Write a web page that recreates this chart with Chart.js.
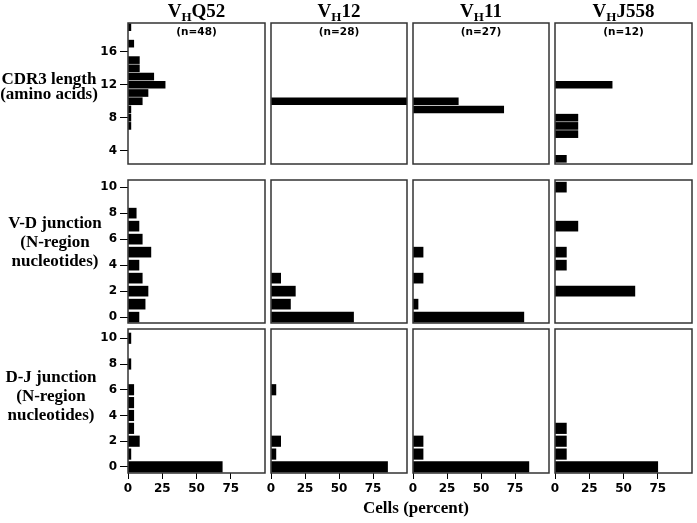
<!DOCTYPE html>
<html lang="en">
<head>
<meta charset="UTF-8">
<title>VH families: CDR3 length and N-region junctions</title>
<script src="https://cdn.jsdelivr.net/npm/chart.js"></script>
<style>
  body { margin: 0; background: #fff; width: 697px; height: 523px; position: relative; overflow: hidden; }
  canvas { position: absolute; }
  .serif { position: absolute; font-family: "Liberation Serif", "Times New Roman", serif; font-weight: bold; color: #000; white-space: nowrap; text-align: center; }
  .ctitle { font-size: 19px; line-height: 19px; }
  .ctitle .sub { font-size: 13px; position: relative; top: 4px; }
  .rlabel { font-size: 17px; line-height: 17px; width: 130px; }
  .count { position: absolute; font: bold 10.5px "DejaVu Sans", Verdana, sans-serif; line-height: 10px; text-align: center; color: #000; }
</style>
</head>
<body>
<script>
// column headers
const families = ['Q52', '12', '11', 'J558'];
const counts = [48, 28, 27, 12];

// row labels
const rowLabels = [
  ['CDR3 length', '(amino acids)'],
  ['V-D junction', '(N-region', 'nucleotides)'],
  ['D-J junction', '(N-region', 'nucleotides)']
];
const xTitle = 'Cells (percent)';

// tick values
const xTicks = [0, 25, 50, 75];
const cdr3Ticks = [4, 8, 12, 16];
const junctionTicks = [0, 2, 4, 6, 8, 10];

// CDR3 length (amino acids) -> percent of cells
const cdr3Q52Len = [7, 8, 9, 10, 11, 12, 13, 14, 15, 17, 19];
const cdr3Q52Pct = [2.1, 2.1, 2.1, 10.4, 14.6, 27.1, 18.8, 8.3, 8.3, 4.2, 2.1];
const cdr3V12Len = [10];
const cdr3V12Pct = [100];
const cdr3V11Len = [9, 10];
const cdr3V11Pct = [66.7, 33.3];
const cdr3J558Len = [3, 6, 7, 8, 12];
const cdr3J558Pct = [8.3, 16.7, 16.7, 16.7, 41.7];

// V-D junction N nucleotides -> percent of cells
const vdQ52N = [0, 1, 2, 3, 4, 5, 6, 7, 8];
const vdQ52Pct = [8, 12.5, 14.6, 10.4, 8, 16.7, 10.4, 8, 6];
const vdV12N = [0, 1, 2, 3];
const vdV12Pct = [60.7, 14.3, 17.9, 7.1];
const vdV11N = [0, 1, 3, 5];
const vdV11Pct = [81.5, 3.7, 7.4, 7.4];
const vdJ558N = [2, 4, 5, 7, 10];
const vdJ558Pct = [58.3, 8.3, 8.3, 16.7, 8.3];

// D-J junction N nucleotides -> percent of cells
const djQ52N = [0, 1, 2, 3, 4, 5, 6, 8, 10];
const djQ52Pct = [68.8, 2.1, 8.3, 4.2, 4.2, 4.2, 4.2, 2.1, 2.1];
const djV12N = [0, 1, 2, 6];
const djV12Pct = [85.7, 3.6, 7.1, 3.6];
const djV11N = [0, 1, 2];
const djV11Pct = [85.2, 7.4, 7.4];
const djJ558N = [0, 1, 2, 3];
const djJ558Pct = [75, 8.3, 8.3, 8.3];

// layout of the 3x4 grid (page pixels)
const colLeft = [128, 271, 413, 555];
const colWidth = [137, 136, 136, 137];
const rowTop = [23, 180, 329];
const rowHeight = [141, 143, 144];
const PAD_L = 40, PAD_T = 4, PAD_R = 4, PAD_B = 30;

const rows = [
  { yMin: 2.37, yMax: 19.51, ticks: cdr3Ticks, thick: 7,
    sets: [[cdr3Q52Len, cdr3Q52Pct], [cdr3V12Len, cdr3V12Pct], [cdr3V11Len, cdr3V11Pct], [cdr3J558Len, cdr3J558Pct]] },
  { yMin: -0.45, yMax: 10.55, ticks: junctionTicks, thick: 10,
    sets: [[vdQ52N, vdQ52Pct], [vdV12N, vdV12Pct], [vdV11N, vdV11Pct], [vdJ558N, vdJ558Pct]] },
  { yMin: -0.47, yMax: 10.72, ticks: junctionTicks, thick: 10.5,
    sets: [[djQ52N, djQ52Pct], [djV12N, djV12Pct], [djV11N, djV11Pct], [djJ558N, djJ558Pct]] }
];

const tickFont = { family: '"DejaVu Sans", Verdana, sans-serif', weight: 'bold', size: 12 };

// box around each panel
const frame = {
  id: 'frame',
  afterDraw(chart) {
    const { ctx, chartArea: a } = chart;
    ctx.save();
    ctx.strokeStyle = '#333';
    ctx.lineWidth = 1.5;
    ctx.strokeRect(a.left, a.top, a.right - a.left, a.bottom - a.top);
    ctx.restore();
  }
};

// fixed axis sizes so every panel's plot area lands on the same grid
function fixSize(s, prop, val) {
  s[prop] = val;
  s.paddingTop = s.paddingBottom = s.paddingLeft = s.paddingRight = 0;
}

function makePanel(r, c) {
  const row = rows[r];
  const [cats, vals] = row.sets[c];
  const showY = c === 0, showX = r === rows.length - 1;
  const w = colWidth[c] + PAD_L + PAD_R, h = rowHeight[r] + PAD_T + PAD_B;
  const cv = document.createElement('canvas');
  cv.width = w; cv.height = h;
  cv.style.left = (colLeft[c] - PAD_L) + 'px';
  cv.style.top = (rowTop[r] - PAD_T) + 'px';
  cv.style.width = w + 'px'; cv.style.height = h + 'px';
  document.body.appendChild(cv);

  new Chart(cv, {
    type: 'bar',
    data: {
      datasets: [{
        data: cats.map((v, i) => ({ x: vals[i], y: v })),
        backgroundColor: '#000',
        borderWidth: 0,
        barThickness: row.thick
      }]
    },
    options: {
      indexAxis: 'y',
      responsive: false,
      animation: false,
      layout: { autoPadding: false, padding: { left: 0, top: PAD_T, right: PAD_R, bottom: 0 } },
      plugins: { legend: { display: false }, tooltip: { enabled: false } },
      scales: {
        x: {
          type: 'linear', min: 0, max: 100, offset: false,
          afterBuildTicks: s => { s.ticks = xTicks.map(v => ({ value: v })); },
          afterFit: s => fixSize(s, 'height', PAD_B),
          border: { display: false },
          grid: { offset: false, drawOnChartArea: false, drawTicks: showX, tickLength: 6, color: '#000' },
          ticks: { display: showX, font: tickFont, color: '#000', padding: 3, maxRotation: 0 }
        },
        y: {
          type: 'linear', min: row.yMin, max: row.yMax, offset: false,
          afterBuildTicks: s => { s.ticks = row.ticks.map(v => ({ value: v })); },
          afterFit: s => fixSize(s, 'width', PAD_L),
          border: { display: false },
          grid: { offset: false, drawOnChartArea: false, drawTicks: showY, tickLength: 8, color: '#000' },
          ticks: { display: showY, font: tickFont, color: '#000', padding: 3 }
        }
      }
    },
    plugins: [frame]
  });
}

function addText(cls, html, left, top, width) {
  const d = document.createElement('div');
  d.className = cls;
  d.innerHTML = html;
  d.style.left = left + 'px';
  d.style.top = top + 'px';
  if (width) d.style.width = width + 'px';
  document.body.appendChild(d);
}

for (let r = 0; r < rows.length; r++)
  for (let c = 0; c < families.length; c++) makePanel(r, c);

// column titles and counts
families.forEach((f, c) => {
  addText('serif ctitle', 'V<span class="sub">H</span>' + f, colLeft[c], 1, colWidth[c]);
  addText('count', '(n=' + counts[c] + ')', colLeft[c], rowTop[0] + 3, colWidth[c]);
});

// row labels: centre x and baselines of each line
const labelPos = [
  { cx: 49, base: [84.5, 99.5] },
  { cx: 55, base: [228, 247, 266] },
  { cx: 51, base: [382, 401.5, 420] }
];
rowLabels.forEach((lines, r) => {
  lines.forEach((t, i) => {
    addText('serif rlabel', t, labelPos[r].cx - 65, labelPos[r].base[i] - 14.2);
  });
});

addText('serif rlabel', xTitle, 416 - 65, 512.7 - 14.2);
</script>
</body>
</html>
